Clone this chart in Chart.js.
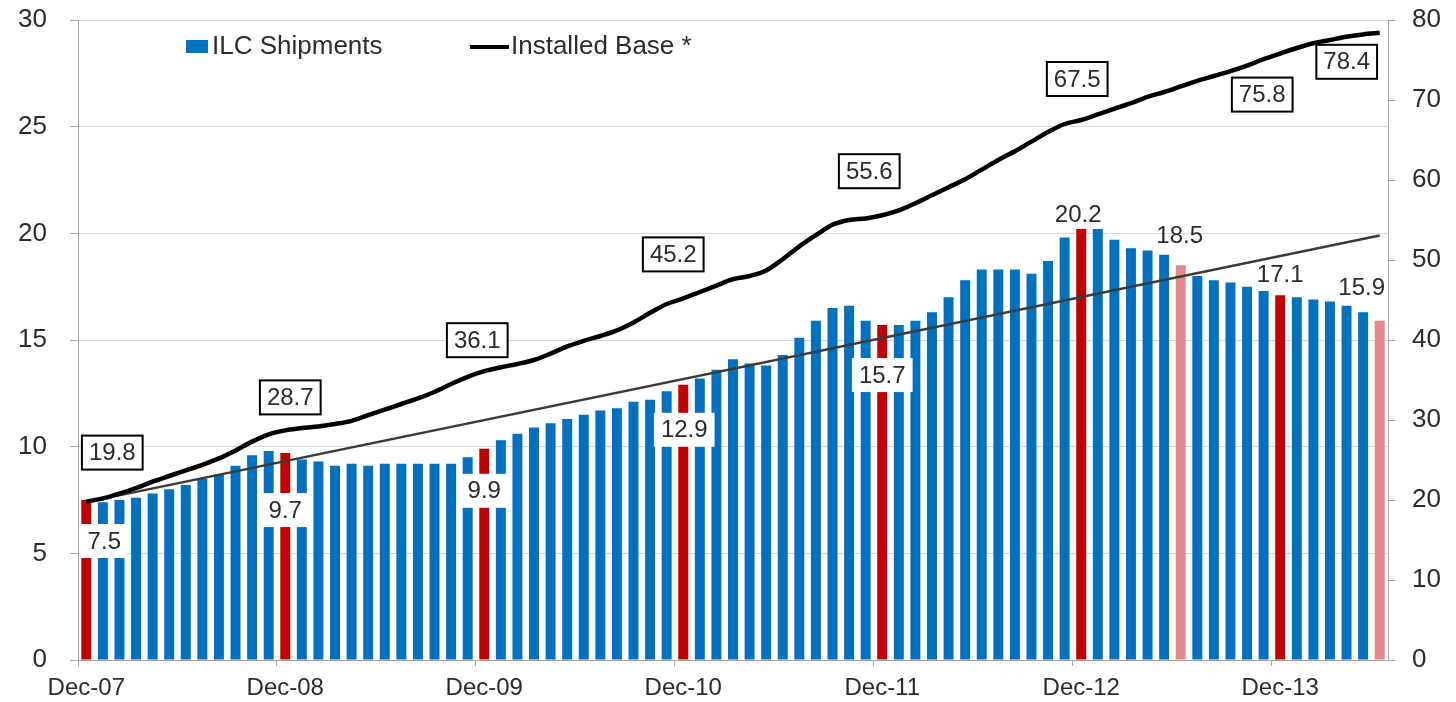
<!DOCTYPE html>
<html>
<head>
<meta charset="utf-8">
<title>ILC Shipments and Installed Base</title>
<script src="https://cdn.jsdelivr.net/npm/chart.js@4.4.1/dist/chart.umd.min.js"></script>
<style>
  html, body { margin: 0; padding: 0; background: #fff; }
  #chart { display: block; }
</style>
</head>
<body>
<canvas id="chart" width="1456" height="702"></canvas>
<script>
// monthly categories, Dec-07 .. Jun-14
var monthNames = ['Jan', 'Feb', 'Mar', 'Apr', 'May', 'Jun', 'Jul', 'Aug', 'Sep', 'Oct', 'Nov', 'Dec'];
var months = ['Dec-07'];
for (var yr = 8; yr <= 14; yr++) {
    for (var m = 0; m < 12; m++) {
        if (yr === 14 && m > 5) break;
        months.push(monthNames[m] + '-' + (yr < 10 ? '0' + yr : yr));
    }
}

// ILC shipments (left axis)
var shipments = [
    7.5,
    7.4, 7.5, 7.6, 7.8, 8.0, 8.2, 8.5, 8.7, 9.1, 9.6, 9.8, 9.7,
    9.4, 9.3, 9.1, 9.2, 9.1, 9.2, 9.2, 9.2, 9.2, 9.2, 9.5, 9.9,
    10.3, 10.6, 10.9, 11.1, 11.3, 11.5, 11.7, 11.8, 12.1, 12.2, 12.6, 12.9,
    13.2, 13.6, 14.1, 13.9, 13.8, 14.3, 15.1, 15.9, 16.5, 16.6, 15.9, 15.7,
    15.7, 15.9, 16.3, 17.0, 17.8, 18.3, 18.3, 18.3, 18.1, 18.7, 19.8, 20.2,
    20.2, 19.7, 19.3, 19.2, 19.0, 18.5, 18.0, 17.8, 17.7, 17.5, 17.3, 17.1,
    17.0, 16.9, 16.8, 16.6, 16.3, 15.9
];

// installed base (right axis)
var installedBase = [
    19.8,
    20.2, 20.8, 21.5, 22.3, 23.0, 23.7, 24.4, 25.2, 26.2, 27.3, 28.2, 28.7,
    29.0, 29.2, 29.5, 29.9, 30.6, 31.3, 32.0, 32.7, 33.5, 34.5, 35.4, 36.1,
    36.6, 37.0, 37.5, 38.3, 39.2, 39.9, 40.5, 41.2, 42.2, 43.4, 44.5, 45.2,
    46.0, 46.8, 47.6, 48.0, 48.7, 50.1, 51.7, 53.1, 54.4, 55.0, 55.2, 55.6,
    56.2, 57.1, 58.1, 59.1, 60.1, 61.3, 62.5, 63.6, 64.8, 66.0, 67.0, 67.5,
    68.2, 68.9, 69.6, 70.4, 71.0, 71.7, 72.4, 73.0, 73.6, 74.3, 75.1, 75.8,
    76.5, 77.1, 77.5, 77.9, 78.2, 78.4
];

// linear trend of shipments, start and end
var trendEnds = [7.4, 19.9];

var forecastMonths = ['Jun-13', 'Jun-14'];

var yTicks = [0, 5, 10, 15, 20, 25, 30];
var y1Ticks = [0, 10, 20, 30, 40, 50, 60, 70, 80];

var BLUE = '#0070c0', RED = '#c00000', PINK = '#e6878b';
var FONT = "'Liberation Sans', Arial, sans-serif";
var TXT = '#2b2b2b', AXIS = '#a6a6a6';

Chart.defaults.font.family = FONT;

var barColors = months.map(function(m) {
    if (forecastMonths.indexOf(m) >= 0) return PINK;
    if (m.indexOf('Dec') === 0) return RED;
    return BLUE;
});

var trendData = months.map(function(m, i) {
    if (i === 0) return trendEnds[0];
    if (i === months.length - 1) return trendEnds[1];
    return null;
});

// label placement: dataset, index, offset from mark, style
var labelSpots = [
    { ds: 2, i: 0,  dx: 26,  dy: -49, border: true },
    { ds: 2, i: 12, dx: 5,   dy: -33, border: true },
    { ds: 2, i: 24, dx: -7,  dy: -31, border: true },
    { ds: 2, i: 36, dx: -10, dy: -44, border: true },
    { ds: 2, i: 48, dx: -13, dy: -44, border: true },
    { ds: 2, i: 60, dx: -4,  dy: -41, border: true },
    { ds: 2, i: 72, dx: -18, dy: 41,  border: true },
    { ds: 2, i: 78, dx: -33, dy: 29,  border: true },
    { ds: 0, i: 0,  dx: 18,  dy: 41,  fill: true },
    { ds: 0, i: 12, dx: 0,   dy: 57,  fill: true },
    { ds: 0, i: 24, dx: 0,   dy: 42,  fill: true },
    { ds: 0, i: 36, dx: 1,   dy: 45,  fill: true },
    { ds: 0, i: 48, dx: 0,   dy: 50,  fill: true },
    { ds: 0, i: 60, dx: -3,  dy: -15 },
    { ds: 0, i: 66, dx: -1,  dy: -30 },
    { ds: 0, i: 72, dx: 0,   dy: -21 },
    { ds: 0, i: 78, dx: -18, dy: -33 }
];

var valueLabels = {
    id: 'valueLabels',
    afterDatasetsDraw: function(chart) {
        var ctx = chart.ctx;
        ctx.save();
        ctx.font = '24px ' + FONT;
        ctx.textAlign = 'center';
        ctx.textBaseline = 'middle';
        labelSpots.forEach(function(s) {
            var el = chart.getDatasetMeta(s.ds).data[s.i];
            var text = chart.data.datasets[s.ds].data[s.i].toFixed(1);
            var x = el.x + s.dx, y = el.y + s.dy;
            var w = ctx.measureText(text).width + 14, h = 34;
            if (s.fill || s.border) {
                ctx.fillStyle = '#fff';
                ctx.fillRect(x - w / 2, y - h / 2, w, h);
            }
            if (s.border) {
                ctx.lineWidth = 2;
                ctx.strokeStyle = '#000';
                ctx.strokeRect(x - w / 2, y - h / 2, w, h);
            }
            ctx.fillStyle = TXT;
            ctx.fillText(text, x, y + 1);
        });
        ctx.restore();
    }
};

var legendBox = {
    id: 'legendBox',
    afterDraw: function(chart) {
        var ctx = chart.ctx, ds = chart.data.datasets;
        ctx.save();
        ctx.font = '26px ' + FONT;
        ctx.textBaseline = 'middle';
        ctx.fillStyle = BLUE;
        ctx.fillRect(186, 40, 22, 13);
        ctx.fillStyle = TXT;
        ctx.fillText(ds[0].label, 212, 47);
        ctx.strokeStyle = '#000';
        ctx.lineWidth = 4;
        ctx.beginPath();
        ctx.moveTo(470, 47);
        ctx.lineTo(509, 47);
        ctx.stroke();
        ctx.fillText(ds[2].label, 511, 47);
        ctx.restore();
    }
};

// vertical axes: fixed width, no extra top/bottom room for the end labels
function fixAxis(width) {
    return function(s) {
        s.width = width;
        s.paddingTop = 0;
        s.paddingBottom = 0;
    };
}

new Chart(document.getElementById('chart'), {
    data: {
        labels: months,
        datasets: [
            {
                type: 'bar',
                label: 'ILC Shipments',
                data: shipments,
                backgroundColor: barColors,
                barPercentage: 0.6,
                categoryPercentage: 1.0,
                yAxisID: 'y',
                order: 3
            },
            {
                type: 'line',
                label: 'Trend',
                data: trendData,
                spanGaps: true,
                borderColor: '#3a3a3a',
                borderWidth: 2.5,
                pointRadius: 0,
                yAxisID: 'y',
                order: 2
            },
            {
                type: 'line',
                label: 'Installed Base *',
                data: installedBase,
                borderColor: '#000',
                borderWidth: 4.5,
                pointRadius: 0,
                tension: 0.4,
                cubicInterpolationMode: 'monotone',
                yAxisID: 'y1',
                order: 1
            }
        ]
    },
    options: {
        responsive: false,
        animation: false,
        devicePixelRatio: 1,
        layout: { padding: { top: 20, left: 0, right: 0, bottom: 0 } },
        plugins: {
            legend: { display: false },
            tooltip: { enabled: false }
        },
        scales: {
            x: {
                offset: true,
                grid: {
                    offset: true,
                    drawOnChartArea: false,
                    tickLength: 6,
                    color: function(c) { return c.index % 12 === 0 ? AXIS : 'rgba(0,0,0,0)'; }
                },
                border: { color: AXIS },
                ticks: {
                    autoSkip: false,
                    maxRotation: 0,
                    minRotation: 0,
                    padding: 8,
                    color: TXT,
                    font: { size: 24 },
                    callback: function(v, i) { return i % 12 === 0 ? months[i] : ''; }
                },
                afterFit: function(s) { s.height = 42; }
            },
            y: {
                position: 'left',
                min: yTicks[0],
                max: yTicks[yTicks.length - 1],
                grid: { color: '#d9d9d9', tickColor: AXIS, tickLength: 8 },
                border: { color: AXIS },
                afterBuildTicks: function(s) { s.ticks = yTicks.map(function(v) { return { value: v }; }); },
                ticks: { padding: 23, color: TXT, font: { size: 26 } },
                afterFit: fixAxis(78)
            },
            y1: {
                position: 'right',
                min: y1Ticks[0],
                max: y1Ticks[y1Ticks.length - 1],
                grid: { drawOnChartArea: false, color: AXIS, tickLength: 7 },
                border: { color: AXIS },
                afterBuildTicks: function(s) { s.ticks = y1Ticks.map(function(v) { return { value: v }; }); },
                ticks: { padding: 17, color: TXT, font: { size: 26 } },
                afterFit: fixAxis(68)
            }
        }
    },
    plugins: [valueLabels, legendBox]
});
</script>
</body>
</html>
